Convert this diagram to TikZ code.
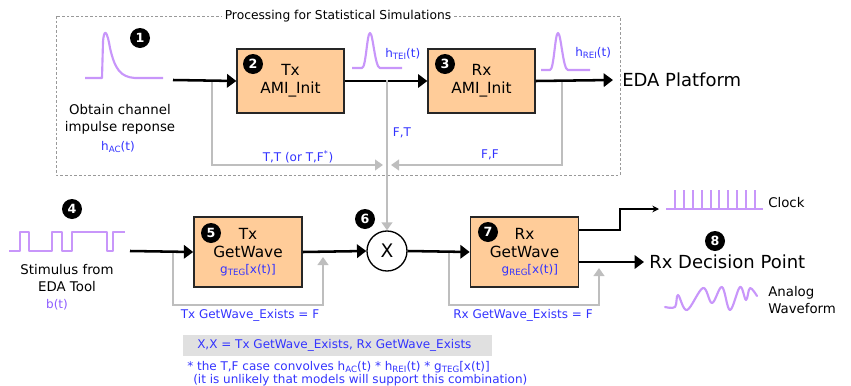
\documentclass[tikz,border=0pt]{standalone}
\usepackage{fontspec}
\setmainfont{DejaVu Sans}
\usetikzlibrary{arrows.meta,positioning}

\definecolor{boxfill}{RGB}{255,204,153}
\definecolor{lblblue}{RGB}{51,51,255}
\definecolor{wavepurple}{RGB}{200,150,250}
\definecolor{bviolet}{RGB}{140,90,255}
\definecolor{connectgray}{RGB}{190,190,190}
\definecolor{notegray}{RGB}{224,224,224}

\newcommand{\lowsub}[1]{\raisebox{-0.35ex}{\fontsize{6.5}{6.5}\selectfont #1}}

\tikzset{
  blk/.style={draw=black!85,line width=1.2pt,fill=boxfill,minimum width=80pt,minimum height=48pt,
    align=center,font=\fontsize{11.5}{13.5}\selectfont,inner sep=0pt},
  gwblk/.style={blk,minimum width=81pt,minimum height=52.5pt},
  num/.style={circle,fill=black,text=white,inner sep=0pt,minimum size=15pt,
    font=\fontsize{9.5}{9.5}\selectfont\bfseries},
  mainline/.style={line width=1.9pt,-{Triangle[length=7pt,width=10pt]}},
  grayline/.style={connectgray,line width=1.8pt,-{Triangle[length=6pt,width=8pt]}},
  lbl/.style={text=lblblue,font=\fontsize{9}{10.5}\selectfont,inner sep=0pt},
  txt/.style={font=\fontsize{10}{12.5}\selectfont,align=center,inner sep=0pt},
  bigtxt/.style={font=\fontsize{13.5}{16}\selectfont,inner sep=0pt},
  wave/.style={wavepurple,line width=1.6pt,line join=round}
}

\begin{document}
\begin{tikzpicture}[x=0.75pt,y=-0.75pt]
  \useasboundingbox (0,0) rectangle (851,386);

  % statistical part
  \draw[black!40,line width=0.75pt,dash pattern=on 2pt off 1.5pt] (56,16) rectangle (620,175);
  \node[font=\fontsize{9.2}{11}\selectfont,fill=white,inner sep=2pt] (title) at (338,16) {Processing for Statistical Simulations};

  \node[blk] (txinit) at (290.5,81) {Tx\\AMI\_Init};
  \node[blk] (rxinit) at (481.5,81) {Rx\\AMI\_Init};
  \node[num] (n1) at (140,38) {1};
  \node[num] (n2) at (253,64) {2};
  \node[num] (n3) at (445,64) {3};

  \coordinate (chin) at (173,80);
  \coordinate (edaend) at (613,80);
  \coordinate (brtt) at (212,80);
  \coordinate (brft) at (387,80);
  \coordinate (brff) at (562,80);

  \draw[grayline] (brtt) |- (383,165);
  \draw[grayline] (brff) |- (391,165);

  \draw[mainline] (chin) -- (txinit.west);
  \draw[mainline] (txinit.east) -- (rxinit.west);
  \draw[mainline] (rxinit.east) -- (edaend);
  \node[bigtxt,anchor=west] (eda) at (622,80) {EDA Platform};

  % impulse responses
  \draw[wave] (85,78) -- (102,78) -- (103,42) .. controls (104,28) and (107,30) .. (110,48)
    .. controls (115,70) and (121,77) .. (135,78) -- (163,78);
  \draw[wave] (352,68) -- (362,68) .. controls (366,68) and (367,33) .. (370,33)
    .. controls (373,33) and (375,68) .. (380,68) -- (402,68);
  \draw[wave] (541,70) -- (550,70) .. controls (554,70) and (555,33) .. (558,33)
    .. controls (561,33) and (563,70) .. (568,70) -- (590,70);

  \node[txt] (chtxt) at (120,119) {Obtain channel\\impulse reponse};
  \node[lbl] (hac) at (118,147) {h\lowsub{AC}(t)};
  \node[lbl,anchor=west] (htei) at (385,54) {h\lowsub{TEI}(t)};
  \node[lbl,anchor=west] (hrei) at (575,53) {h\lowsub{REI}(t)};
  \node[lbl] (lbltt) at (298,157) {T,T (or T,F\textsuperscript{*})};
  \node[lbl] (lblft) at (402,133) {F,T};
  \node[lbl] (lblff) at (490,155) {F,F};

  % GetWave part
  \node[gwblk] (txgw) at (248,252) {Tx\\GetWave\\[-1pt]{\fontsize{9}{10.5}\selectfont\color{lblblue}g\lowsub{TEG}[x(t)]}};
  \node[gwblk] (rxgw) at (524.5,252) {Rx\\GetWave\\[-1pt]\hspace*{8pt}{\fontsize{9}{10.5}\selectfont\color{lblblue}g\lowsub{REG}[x(t)]}};
  \node[circle,draw,line width=1pt,minimum size=30pt,inner sep=0pt,font=\fontsize{14}{14}\selectfont] (xmul) at (387,251) {X};
  \node[num] (n4) at (72,209) {4};
  \node[num] (n5) at (211,233) {5};
  \node[num] (n6) at (365,219) {6};
  \node[num] (n7) at (488,232) {7};
  \node[num] (n8) at (715,241) {8};

  \draw[grayline] (brft) -- (xmul.north);

  \coordinate (stimin) at (130,251);
  \coordinate (brtx) at (173,251);
  \coordinate (brrx) at (449,251);
  \draw[grayline] (brtx) -- (173,305) -| (323,257);
  \draw[grayline] (brrx) -- (449,305) -| (599,268);

  \draw[mainline] (stimin) -- (txgw.west);
  \draw[mainline] (txgw.east) -- (xmul.west);
  \draw[mainline] (xmul.east) -- (rxgw.west);
  \coordinate (decend) at (644,262);
  \coordinate (clkend) at (659,209);
  \draw[mainline] (rxgw.east |- decend) -- (decend);
  \draw[line width=1pt,-{Stealth[length=5pt,width=5pt]}] (rxgw.east |- 0,230) -- (620,230) |- (clkend);
  \node[bigtxt,anchor=west] (dec) at (649,262) {Rx Decision Point};

  % stimulus
  \draw[wave] (9,251) -- (20,251) -- (20,232) -- (29,232) -- (29,251) -- (52,251) -- (52,232)
    -- (62,232) -- (62,251) -- (72,251) -- (72,232) -- (107,232) -- (107,251) -- (113,251)
    -- (113,232) -- (125,232);
  \node[txt] (stim) at (67,278) {Stimulus from\\EDA Tool};
  \node[text=bviolet,font=\fontsize{9}{10.5}\selectfont,inner sep=0pt] (bt) at (57,305) {b(t)};

  % clock
  \draw[wave] (666,209) -- (763,209);
  \foreach \cx in {675,684,693,702,711,719,728,737,746,755}
    \draw[wave,line cap=butt] (\cx,209) -- (\cx,190);
  \node[txt,anchor=west] (clk) at (768,203) {Clock};

  % analog waveform
  \draw[wave,line cap=round] plot[smooth,tension=0.6] coordinates {(665,307) (675,307) (678,295) (687,310)
    (703,288) (712,303) (722,287) (730,310) (740,287) (746,300) (750,288) (757,296)};
  \node[txt,anchor=west,align=left] (ana) at (768,300) {Analog\\Waveform};

  \node[lbl] (lbltx) at (250,315) {Tx GetWave\_Exists = F};
  \node[lbl] (lblrx) at (523,315) {Rx GetWave\_Exists = F};

  % notes
  \fill[notegray] (183,335) rectangle (492,356);
  \node[lbl,anchor=west] (keynote) at (197,345.5) {X,X = Tx GetWave\_Exists, Rx GetWave\_Exists};
  \node[lbl,anchor=west] (starnote) at (187,367) {* the T,F case convolves h\lowsub{AC}(t) * h\lowsub{REI}(t) * g\lowsub{TEG}[x(t)]};
  \node[lbl,anchor=west] (unlnote) at (193,380) {(it is unlikely that models will support this combination)};
\end{tikzpicture}
\end{document}
